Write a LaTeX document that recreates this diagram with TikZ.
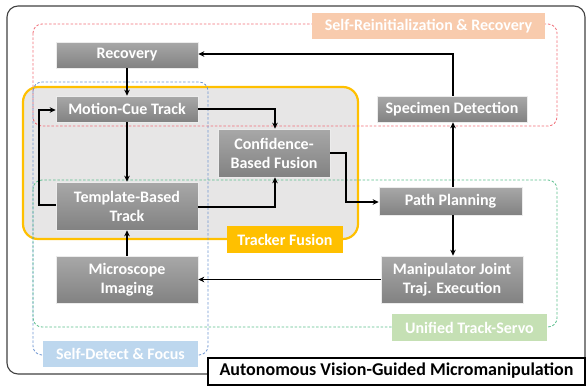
\documentclass[tikz,border=0pt]{standalone}
\usepackage{fontspec}
\setmainfont{Carlito}
\usetikzlibrary{arrows.meta}
\definecolor{nodetop}{RGB}{168,168,168}
\definecolor{nodebot}{RGB}{130,130,130}
\definecolor{gold}{RGB}{255,192,0}
\definecolor{fusionfill}{RGB}{231,230,230}
\definecolor{redd}{RGB}{240,110,120}
\definecolor{bluedash}{RGB}{110,150,210}
\definecolor{greendash}{RGB}{90,190,140}
\definecolor{peach}{RGB}{248,203,173}
\definecolor{lblue}{RGB}{189,215,238}
\definecolor{lgreen}{RGB}{197,224,180}
\tikzset{
  proc/.style={draw=white!85!gray, line width=0.6pt, top color=nodetop, bottom color=nodebot,
    text=white, font=\fontsize{16}{19}\selectfont\bfseries, align=center, inner sep=0pt},
  grp/.style={dashed, dash pattern=on 2.5pt off 1.8pt, line width=0.8pt, rounded corners=9pt},
  grplabel/.style={text=white, font=\fontsize{16}{19}\selectfont\bfseries, inner sep=0pt, anchor=center},
  conn/.style={line width=1.6pt, -{Stealth[length=6pt,width=5.5pt]}},
}
\begin{document}
\begin{tikzpicture}[x=1pt,y=-1pt]
\useasboundingbox (0,0) rectangle (588,388);
% outer frame
\draw[line width=1.1pt, draw=black!75, rounded corners=11pt] (7,6) rectangle (585,374);
% tracker fusion area
\draw[line width=2.2pt, draw=gold, fill=fusionfill, rounded corners=15pt] (23,87) rectangle (358,239);
% dashed groups
\draw[grp, draw=redd] (33,24) rectangle (557,126);
\draw[grp, draw=bluedash] (33,82) rectangle (208,355);
\draw[grp, draw=greendash] (33,180) rectangle (557,327);
% group labels
\node[grplabel, fill=peach, minimum width=233pt, minimum height=26pt] (lrec) at (428.5,26) {Self-Reinitialization \& Recovery};
\node[grplabel, fill=lblue, minimum width=155pt, minimum height=26pt] (ldet) at (120.5,354) {Self-Detect \& Focus};
\node[grplabel, fill=lgreen, minimum width=155pt, minimum height=27pt] (luni) at (469.5,327.5) {Unified Track-Servo};
\node[grplabel, fill=gold, minimum width=116pt, minimum height=27pt] (lfus) at (285,239.5) {Tracker Fusion};
% process nodes
\node[proc, minimum width=142pt, minimum height=26pt] (rec) at (127,55) {Recovery};
\node[proc, minimum width=142pt, minimum height=26pt] (mot) at (127,109) {Motion-Cue Track};
\node[proc, minimum width=142pt, minimum height=48pt] (tpl) at (127,206) {Template-Based\\Track};
\node[proc, minimum width=142pt, minimum height=47pt] (mic) at (127,279.5) {Microscope\\Imaging};
\node[proc, minimum width=112pt, minimum height=48pt] (conf) at (274,153) {Confidence-\\Based Fusion};
\node[proc, minimum width=150pt, minimum height=26pt] (spec) at (452,109) {Specimen Detection};
\node[proc, minimum width=143pt, minimum height=28pt] (path) at (450.5,201) {Path Planning};
\node[proc, minimum width=142pt, minimum height=47pt] (man) at (452,279.5) {Manipulator Joint\\Traj. Execution};
% title
\node[draw=black, line width=2pt, fill=white, minimum width=377pt, minimum height=27pt, inner sep=0pt,
  font=\fontsize{18}{21}\selectfont\bfseries] (title) at (396.5,371) {Autonomous Vision-Guided Micromanipulation};
% connectors
\draw[conn] (spec.north -| 453,0) -- (453,54) -- (rec.east |- 0,54);
\draw[conn] (rec) -- (mot);
\draw[conn] (mot.east) -- (275,109) -- (conf.north -| 275,0);
\draw[conn] (mot) -- (tpl);
\draw[conn] (tpl.west |- 0,205) -- (39,205) -- (39,110) -- (mot.west |- 0,110);
\draw[conn] (tpl.east |- 0,207) -- (275,207) -- (conf.south -| 275,0);
\draw[conn] (conf.east) -- (346,153) -- (346,202) -- (path.west |- 0,202);
\draw[conn] (path.north -| 453,0) -- (spec.south -| 453,0);
\draw[conn] (path.south -| 453,0) -- (man.north -| 453,0);
\draw[conn] (man.west) -- (mic.east);
\draw[conn] (mic) -- (tpl);
\end{tikzpicture}
\end{document}
